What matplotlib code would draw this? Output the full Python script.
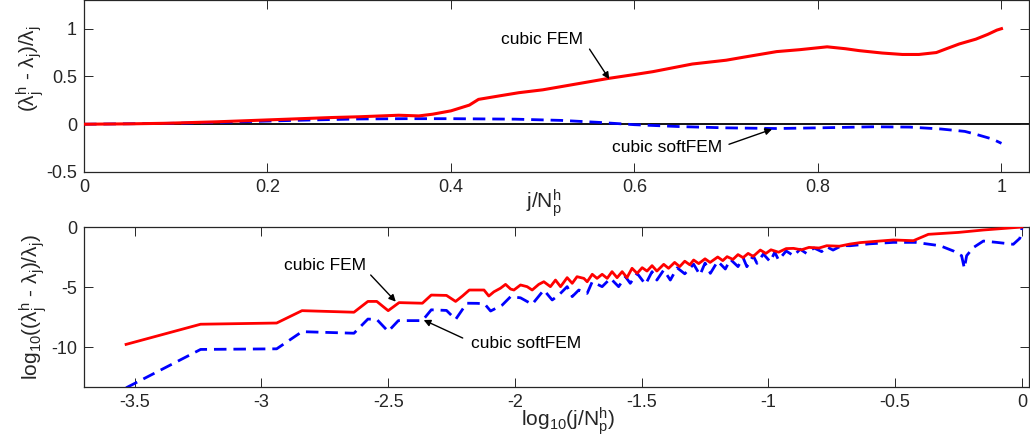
import matplotlib
matplotlib.use("Agg")
import matplotlib.pyplot as plt

plt.rcParams['font.family'] = ['Liberation Sans', 'DejaVu Sans']
plt.rcParams['mathtext.fontset'] = 'custom'
plt.rcParams['mathtext.rm'] = 'Liberation Sans'
plt.rcParams['mathtext.it'] = 'Liberation Sans:italic'
plt.rcParams['mathtext.bf'] = 'Liberation Sans:bold'
plt.rcParams['axes.unicode_minus'] = False

# ---- top panel data: relative error vs j/N ----
top_fem_x = [0.0, 0.05, 0.09, 0.144, 0.2, 0.27, 0.3, 0.343, 0.365, 0.38, 0.4, 0.42, 0.43,
             0.453, 0.474, 0.5, 0.53, 0.572, 0.6, 0.62, 0.663, 0.7, 0.718, 0.755, 0.78,
             0.8, 0.81, 0.83, 0.845, 0.87, 0.892, 0.91, 0.929, 0.94, 0.954, 0.972, 0.985,
             0.995, 1.0]
top_fem_y = [0.0, 0.004, 0.01, 0.025, 0.045, 0.07, 0.078, 0.094, 0.087, 0.105, 0.14, 0.2, 0.26,
             0.297, 0.33, 0.36, 0.41, 0.48, 0.52, 0.55, 0.63, 0.67, 0.70, 0.76, 0.78,
             0.80, 0.81, 0.79, 0.77, 0.745, 0.73, 0.73, 0.75, 0.79, 0.84, 0.89, 0.94,
             0.985, 1.0]
top_soft_x = [0.0, 0.1, 0.15, 0.2, 0.25, 0.3, 0.35, 0.4, 0.47, 0.52, 0.56, 0.6, 0.65, 0.7,
              0.755, 0.8, 0.86, 0.9, 0.934, 0.96, 0.972, 0.99, 1.0]
top_soft_y = [0.0, 0.01, 0.02, 0.033, 0.045, 0.055, 0.058, 0.058, 0.053, 0.04, 0.02, -0.005,
              -0.025, -0.038, -0.045, -0.038, -0.027, -0.03, -0.05, -0.075, -0.105, -0.155, -0.2]

# ---- bottom panel data: log10 error vs log10(j/N) ----
log_fem_x = [-3.534, -3.24, -2.94, -2.84, -2.635, -2.58, -2.545, -2.5, -2.457, -2.365, -2.33,
             -2.27, -2.234, -2.207, -2.18, -2.122, -2.103, -2.083, -2.057, -2.037, -2.017,
             -2.004, -1.978, -1.952, -1.932, -1.906, -1.886, -1.86, -1.84, -1.82, -1.794,
             -1.774, -1.755, -1.728, -1.715, -1.695, -1.676, -1.656, -1.636, -1.617, -1.597,
             -1.577, -1.558, -1.538, -1.518, -1.498, -1.479, -1.459, -1.44, -1.413, -1.394,
             -1.37, -1.35, -1.33, -1.31, -1.295, -1.275, -1.25, -1.23, -1.2, -1.18, -1.163,
             -1.14, -1.12, -1.1, -1.08, -1.06, -1.032, -1.01, -0.99, -0.96, -0.93, -0.901,
             -0.87, -0.84, -0.8, -0.77, -0.72, -0.678, -0.638, -0.58, -0.507, -0.428, -0.369,
             -0.25, -0.152, -0.06, 0.0]
log_fem_y = [-9.78, -8.1, -8.0, -6.97, -7.1, -6.2, -6.2, -6.97, -6.3, -6.35, -5.67,
             -5.7, -6.2, -5.75, -5.25, -5.25, -5.75, -5.4, -5.1, -4.78, -5.17,
             -5.25, -4.83, -4.97, -5.25, -4.78, -4.56, -4.97, -4.42, -4.97, -4.22,
             -4.69, -4.14, -4.28, -4.56, -3.94, -4.28, -3.94, -4.28, -3.72, -4.22,
             -3.72, -4.22, -3.44, -3.86, -3.39, -3.67, -3.22, -3.67, -3.11, -3.44,
             -2.95, -3.3, -2.85, -3.15, -2.75, -3.05, -2.65, -2.95, -2.5, -2.8, -2.47,
             -2.7, -2.3, -2.55, -2.2, -2.45, -1.92, -2.2, -1.9, -2.1, -1.8, -1.78,
             -1.9, -1.7, -1.75, -1.56, -1.6, -1.42, -1.3, -1.2, -1.08, -1.14, -0.61,
             -0.45, -0.25, -0.1, 0.0]
log_soft_x = [-3.534, -3.24, -2.94, -2.84, -2.635, -2.58, -2.545, -2.5, -2.46, -2.365, -2.33,
              -2.27, -2.234, -2.19, -2.149, -2.12, -2.096, -2.05, -2.017, -1.978, -1.932,
              -1.886, -1.853, -1.827, -1.794, -1.774, -1.748, -1.715, -1.695, -1.656, -1.623,
              -1.591, -1.564, -1.545, -1.518, -1.485, -1.459, -1.44, -1.413, -1.387, -1.36,
              -1.33, -1.295, -1.27, -1.25, -1.229, -1.2, -1.17, -1.15, -1.12, -1.1, -1.085,
              -1.06, -1.045, -1.02, -0.993, -0.975, -0.96, -0.93, -0.9, -0.875, -0.85, -0.82,
              -0.79, -0.77, -0.745, -0.71, -0.678, -0.6, -0.507, -0.42, -0.323, -0.27,
              -0.238, -0.227, -0.218, -0.192, -0.152, -0.1, -0.034, -0.008, 0.0]
log_soft_y = [-13.4, -10.2, -10.15, -8.72, -8.85, -7.67, -7.7, -8.7, -7.8, -7.8, -6.9,
              -6.95, -7.7, -6.35, -6.36, -6.4, -7.0, -6.5, -5.8, -5.9, -6.44,
              -5.25, -6.08, -5.67, -4.97, -5.8, -5.25, -5.53, -4.56, -4.97, -4.28,
              -4.97, -4.14, -4.69, -3.86, -4.78, -3.72, -4.42, -3.58, -4.42, -3.4,
              -3.9, -3.1, -4.0, -3.0, -3.86, -2.85, -3.5, -2.7, -3.3, -2.55, -3.31,
              -2.4, -3.03, -2.25, -2.89, -2.1, -2.75, -2.0, -2.4, -1.85, -2.2, -1.75,
              -2.05, -1.65, -1.92, -1.55, -1.56, -1.4, -1.28, -1.28, -1.56, -2.0,
              -2.39, -3.44, -2.39, -1.72, -1.17, -1.28, -1.44, -0.94, -0.1]

top_xticks = [0, 0.2, 0.4, 0.6, 0.8, 1]
top_xticklabels = ['0', '0.2', '0.4', '0.6', '0.8', '1']
top_yticks = [-0.5, 0, 0.5, 1]
top_yticklabels = ['-0.5', '0', '0.5', '1']
bot_xticks = [-3.5, -3, -2.5, -2, -1.5, -1, -0.5, 0]
bot_xticklabels = ['-3.5', '-3', '-2.5', '-2', '-1.5', '-1', '-0.5', '0']
bot_yticks = [-10, -5, 0]
bot_yticklabels = ['-10', '-5', '0']

W, H = 1030, 448
fig = plt.figure(figsize=(W / 100, H / 100), dpi=100)
axc = '#262626'

def frac(l, t, r, b):
    return [l / W, 1 - b / H, (r - l) / W, (b - t) / H]

ax1 = fig.add_axes(frac(84, 0, 1029, 172))
ax2 = fig.add_axes(frac(84, 227, 1029, 387))

red = '#ff0000'
blue = '#0000ff'
dash = (0, (4.5, 2.5))

ax1.axhline(0, color='black', lw=1.3, zorder=1)
ax1.plot(top_fem_x, top_fem_y, color=red, lw=2.2, zorder=3)
ax1.plot(top_soft_x, top_soft_y, color=blue, lw=2, ls=dash, zorder=2)
ax1.set_xlim(0, 1.03)
ax1.set_ylim(-0.5, 1.3)

ax2.plot(log_fem_x, log_fem_y, color=red, lw=2, zorder=3)
ax2.plot(log_soft_x, log_soft_y, color=blue, lw=2, ls=dash, zorder=2)
ax2.set_xlim(-3.7, 0.028)
ax2.set_ylim(-13.33, 0)

for ax, xt, xl, yt, yl in [(ax1, top_xticks, top_xticklabels, top_yticks, top_yticklabels),
                           (ax2, bot_xticks, bot_xticklabels, bot_yticks, bot_yticklabels)]:
    ax.set_xticks(xt)
    ax.set_xticklabels(xl)
    ax.set_yticks(yt)
    ax.set_yticklabels(yl)
    ax.tick_params(direction='in', length=6.5, width=0.7, colors=axc, labelsize=13,
                   top=True, right=True, pad=5)
    for s in ax.spines.values():
        s.set_color(axc)
        s.set_linewidth(0.9)

lab_fs = 15
ax1.set_xlabel(r'$\mathrm{j/N_p^h}$', fontsize=lab_fs, color=axc, va='top')
ax1.xaxis.set_label_coords(0.487, -0.085)
ax1.set_ylabel(r'$(\mathrm{\lambda_j^h}$ - $\mathrm{\lambda_j)/\lambda_j}$', fontsize=lab_fs, color=axc)
ax1.yaxis.set_label_coords(-0.040, 0.6)

ax2.set_xlabel(r'$\mathrm{log_{10}(j/N_p^h)}$', fontsize=lab_fs, color=axc, va='top')
ax2.xaxis.set_label_coords(0.512, -0.11)
ax2.set_ylabel(r'$\mathrm{log_{10}((\lambda_j^h}$ - $\mathrm{\lambda_j)/\lambda_j)}$', fontsize=lab_fs, color=axc)
ax2.yaxis.set_label_coords(-0.037, 0.5)

arrow = dict(arrowstyle='-|>', color='black', lw=1.0, mutation_scale=10, shrinkA=0, shrinkB=0)
ax1.text(0.4995, 0.89, 'cubic FEM', fontsize=12.5, ha='center', va='center')
ax1.annotate('', xy=(0.5725, 0.472), xytext=(0.551, 0.786), arrowprops=arrow)
ax1.text(0.635, -0.24, 'cubic softFEM', fontsize=12.5, ha='center', va='center')
ax1.annotate('', xy=(0.75, -0.052), xytext=(0.703, -0.21), arrowprops=arrow)

ax2.text(-2.75, -3.17, 'cubic FEM', fontsize=12.5, ha='center', va='center')
ax2.annotate('', xy=(-2.47, -6.22), xytext=(-2.569, -4.0), arrowprops=arrow)
ax2.text(-1.958, -9.67, 'cubic softFEM', fontsize=12.5, ha='center', va='center')
ax2.annotate('', xy=(-2.36, -7.75), xytext=(-2.206, -9.25), arrowprops=arrow)

fig.savefig('out.png', dpi=100)
